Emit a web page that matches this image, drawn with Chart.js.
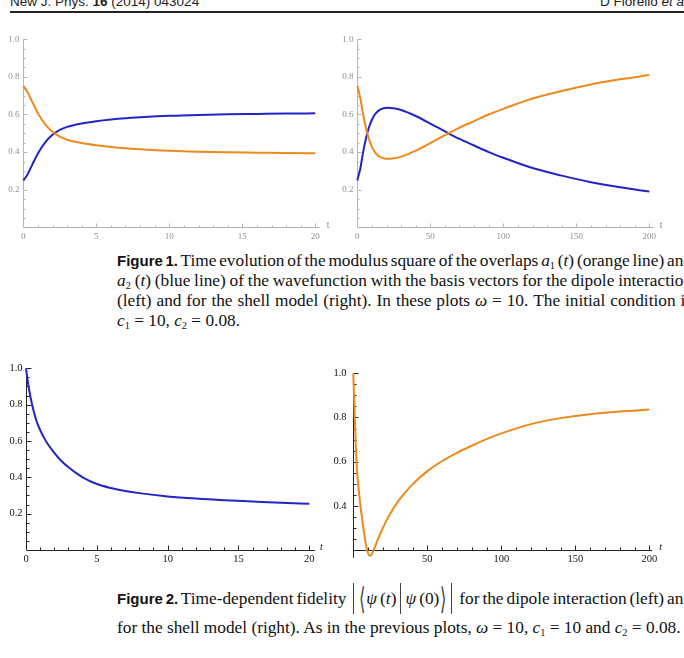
<!DOCTYPE html>
<html>
<head>
<meta charset="utf-8">
<script src="https://cdn.jsdelivr.net/npm/chart.js@4.4.1/dist/chart.umd.min.js"></script>
<style>
  body { margin: 0; width: 684px; height: 658px; overflow: hidden; background: #fff; position: relative; }
  canvas { position: absolute; }
  .head { position: absolute; top: -6px; font-family: "Liberation Sans", Arial, sans-serif; font-size: 13.5px; line-height: 15px; color: #222; white-space: nowrap; }
  .rule { position: absolute; left: 10px; top: 11px; width: 700px; height: 2px; background: #222; }
  .cap { position: absolute; left: 117px; font-family: "Liberation Serif", "Times New Roman", serif; font-size: 17.3px; line-height: 20px; color: #111; white-space: nowrap; }
  .fig { font-family: "Liberation Sans", Arial, sans-serif; font-weight: bold; font-size: 15px; }
  sub { font-size: 0.6em; vertical-align: -0.3em; line-height: 0; }
  .bar { display: inline-block; width: 1px; height: 10px; vertical-align: -3px; position: relative; margin: 0 4px; }
  .bar::before { content: ''; position: absolute; left: 0; top: -14px; width: 1px; height: 31px; background: #444; }
  .ang { display: inline-block; font-family: "DejaVu Sans", sans-serif; font-weight: 200; font-size: 30px; line-height: 10px; height: 10px; vertical-align: -5px; color: #444; transform: scaleX(0.55); margin: 0 -2px; }
</style>
</head>
<body>
<div class="head" style="left:10px">New J. Phys. <b>16</b> (2014) 043024</div>
<div class="head" style="left:600px">D Fiorello <i>et al</i></div>
<div class="rule"></div>

<canvas id="overlapDipole" width="340" height="225" style="left:0;top:25px"></canvas>
<canvas id="overlapShell" width="344" height="225" style="left:340px;top:25px"></canvas>

<div class="cap j" style="top:251px"><b class="fig">Figure 1.</b> Time evolution of the modulus square of the overlaps <i>a</i><sub>1</sub> (<i>t</i>) (orange line) and</div>
<div class="cap j" style="top:271px"><i>a</i><sub>2</sub> (<i>t</i>) (blue line) of the wavefunction with the basis vectors for the dipole interaction</div>
<div class="cap j" style="top:291px">(left) and for the shell model (right). In these plots <i>ω</i> = 10. The initial condition is</div>
<div class="cap" style="top:311px"><i>c</i><sub>1</sub> = 10, <i>c</i><sub>2</sub> = 0.08.</div>

<canvas id="fidelityDipole" width="340" height="235" style="left:0;top:340px"></canvas>
<canvas id="fidelityShell" width="359" height="235" style="left:325px;top:340px"></canvas>

<div class="cap j" style="top:589px"><b class="fig">Figure 2.</b> Time-dependent fidelity <span class="bar"></span><span class="ang">⟨</span><i>ψ</i> (<i>t</i>)<span class="bar"></span><i>ψ</i> (0)<span class="ang">⟩</span><span class="bar"></span> for the dipole interaction (left) and</div>
<div class="cap" style="top:618px">for the shell model (right). As in the previous plots, <i>ω</i> = 10, <i>c</i><sub>1</sub> = 10 and <i>c</i><sub>2</sub> = 0.08.</div>

<script>
// --- data ---
const dipoleT = [0, 0.25, 0.5, 0.75, 1, 1.5, 2, 2.5, 3, 4, 5, 6, 7, 8, 10, 12, 14, 16, 18, 20];
const dipoleA1 = [0.75, 0.725, 0.685, 0.645, 0.607, 0.548, 0.508, 0.482, 0.466, 0.448, 0.436, 0.427, 0.420, 0.415, 0.407, 0.402, 0.399, 0.397, 0.395, 0.394];
const dipoleA2 = [0.25, 0.275, 0.315, 0.355, 0.393, 0.452, 0.492, 0.518, 0.534, 0.552, 0.564, 0.573, 0.580, 0.585, 0.593, 0.598, 0.601, 0.603, 0.605, 0.606];

const shellT = [0, 2, 4, 6, 8, 10, 12, 15, 18, 21, 25, 30, 40, 50, 60, 70, 80, 90, 100, 120, 140, 160, 180, 200];
const shellA1 = [0.75, 0.69, 0.60, 0.525, 0.468, 0.428, 0.400, 0.377, 0.367, 0.364, 0.367, 0.376, 0.408, 0.448, 0.49, 0.53, 0.565, 0.60, 0.63, 0.685, 0.725, 0.76, 0.787, 0.81];
const shellA2 = [0.25, 0.31, 0.40, 0.475, 0.532, 0.572, 0.600, 0.623, 0.633, 0.636, 0.633, 0.624, 0.592, 0.552, 0.51, 0.47, 0.435, 0.40, 0.37, 0.315, 0.275, 0.24, 0.213, 0.19];

const fidDipoleT = [0, 0.1, 0.2, 0.4, 0.7, 1, 1.4, 2, 2.5, 3, 3.6, 4, 5, 6, 7, 8, 10, 12, 14, 16, 18, 20];
const fidDipole = [1.0, 0.94, 0.89, 0.81, 0.72, 0.66, 0.60, 0.535, 0.49, 0.455, 0.42, 0.40, 0.363, 0.341, 0.325, 0.313, 0.295, 0.283, 0.274, 0.267, 0.26, 0.254];

const fidShellT = [0, 0.5, 1, 2, 3, 4, 5, 6, 7, 8, 9, 10, 11, 12, 13.5, 16, 20, 25, 30, 35, 40, 50, 60, 70, 80, 90, 100, 120, 140, 160, 180, 200];
const fidShell = [1.0, 0.90, 0.80, 0.62, 0.52, 0.45, 0.39, 0.34, 0.29, 0.245, 0.21, 0.185, 0.174, 0.176, 0.195, 0.238, 0.30, 0.365, 0.418, 0.46, 0.497, 0.557, 0.603, 0.64, 0.672, 0.702, 0.728, 0.77, 0.797, 0.815, 0.827, 0.836];

// ticks
const dipoleTicks = [0, 5, 10, 15, 20];
const shellTicks = [0, 50, 100, 150, 200];
const shellFidLabels = [50, 100, 150, 200];
const overlapYTicks = [0.2, 0.4, 0.6, 0.8, 1.0];
const fidDipoleYTicks = [0.2, 0.4, 0.6, 0.8, 1.0];
const fidShellYTicks = [0.4, 0.6, 0.8, 1.0];

const ORANGE = '#ee8a1c';
const BLUE = '#2323c6';

// justify the caption lines to the text column by stretching word gaps
const COLUMN = 575;
document.querySelectorAll('.j').forEach(line => {
    const span = document.createElement('span');
    while (line.firstChild) span.appendChild(line.firstChild);
    line.appendChild(span);
    const natural = span.getBoundingClientRect().width;
    const gaps = (span.textContent.match(/ /g) || []).length;
    if (gaps) span.style.wordSpacing = ((COLUMN - natural) / gaps).toFixed(2) + 'px';
});

const pairs = (xs, ys) => xs.map((x, i) => ({ x, y: ys[i] }));

// Mathematica-like axes: crossing lines, inward ticks with minors
const mathAxes = {
    id: 'mathAxes',
    beforeDatasetsDraw(chart, args, o) {
        const ctx = chart.ctx;
        const px = v => chart.scales.x.getPixelForValue(v);
        const py = v => chart.scales.y.getPixelForValue(v);
        const ax = Math.round(px(0)) + 0.5;
        const ay = Math.round(py(o.xAxisAt)) + 0.5;
        ctx.save();
        ctx.strokeStyle = o.color;
        ctx.lineWidth = 1;
        ctx.beginPath();
        ctx.moveTo(ax, ay); ctx.lineTo(px(o.xEnd), ay);
        ctx.moveTo(ax, py(o.yLow)); ctx.lineTo(ax, py(o.yHigh));

        const near = (v, list) => list.some(t => Math.abs(t - v) < 1e-6);
        const xLast = o.xTicks[o.xTicks.length - 1];
        for (let i = 1; i * o.xMinor <= xLast + 1e-9; i++) {
            const v = i * o.xMinor;
            const x = Math.round(px(v)) + 0.5;
            const len = near(v, o.xTicks) ? o.majorLen : o.minorLen;
            ctx.moveTo(x, ay); ctx.lineTo(x, ay - len);
        }
        for (let i = 1; o.xAxisAt + i * o.yMinor <= o.yHigh + 1e-9; i++) {
            const v = o.xAxisAt + i * o.yMinor;
            const y = Math.round(py(v)) + 0.5;
            const len = near(v, o.yTicks) ? o.majorLen : o.minorLen;
            ctx.moveTo(ax, y); ctx.lineTo(ax + len, y);
        }
        ctx.stroke();

        ctx.fillStyle = o.labelColor;
        ctx.font = o.font;
        ctx.textAlign = 'center';
        ctx.textBaseline = 'middle';
        o.xLabels.forEach(v => ctx.fillText(String(v), px(v), ay + o.xLabelDy));
        ctx.textAlign = 'right';
        o.yTicks.forEach(v => ctx.fillText(v.toFixed(1), ax - o.yLabelDx, py(v)));
        ctx.textAlign = 'left';
        ctx.font = o.tFont;
        ctx.fillText('t', px(o.xEnd) + o.tDx, ay + o.tDy);
        ctx.restore();
    }
};

function makeChart(id, datasets, xRange, yRange, padding, axes) {
    return new Chart(document.getElementById(id), {
        type: 'line',
        data: { datasets },
        options: {
            responsive: false,
            animation: false,
            devicePixelRatio: 1,
            layout: { padding },
            scales: {
                x: { type: 'linear', min: xRange[0], max: xRange[1], display: false },
                y: { type: 'linear', min: yRange[0], max: yRange[1], display: false }
            },
            elements: {
                point: { radius: 0 },
                line: { borderWidth: 2, cubicInterpolationMode: 'monotone' }
            },
            plugins: {
                legend: { display: false },
                tooltip: { enabled: false },
                mathAxes: axes
            }
        },
        plugins: [mathAxes]
    });
}

const lightAxes = {
    color: '#b4b4b4', labelColor: '#8f8f8f',
    font: '9px "Liberation Serif", serif', tFont: '9px "Liberation Sans", sans-serif',
    majorLen: 4, minorLen: 2, xLabelDy: 9, yLabelDx: 4, tDy: -2,
    yTicks: overlapYTicks, xAxisAt: 0, yLow: 0, yHigh: 1.0, yMinor: 0.05
};
const darkAxes = {
    color: '#222', labelColor: '#111',
    font: '10.5px "Liberation Serif", serif', tFont: 'italic 10px "Liberation Serif", serif',
    majorLen: 5, minorLen: 3, xLabelDy: 9, tDy: -3, yMinor: 0.05
};

makeChart('overlapDipole', [
    { data: pairs(dipoleT, dipoleA1), borderColor: ORANGE, clip: false },
    { data: pairs(dipoleT, dipoleA2), borderColor: BLUE, clip: false }
], [0, 20], [0, 1], { left: 23.3, right: 24.7, top: 14.3, bottom: 22.7 },
    Object.assign({}, lightAxes, { xTicks: dipoleTicks, xLabels: dipoleTicks, xMinor: 1, xEnd: 20.3, tDx: 7 }));

makeChart('overlapShell', [
    { data: pairs(shellT, shellA1), borderColor: ORANGE, clip: false },
    { data: pairs(shellT, shellA2), borderColor: BLUE, clip: false }
], [0, 200], [0, 1], { left: 17.3, right: 34.7, top: 14.3, bottom: 22.7 },
    Object.assign({}, lightAxes, { xTicks: shellTicks, xLabels: shellTicks, xMinor: 10, xEnd: 203, tDx: 6 }));

makeChart('fidelityDipole', [
    { data: pairs(fidDipoleT, fidDipole), borderColor: BLUE, clip: false }
], [0, 20], [0, 1], { left: 26, right: 30.7, top: 28.3, bottom: 25 },
    Object.assign({}, darkAxes, { xTicks: dipoleTicks, xLabels: dipoleTicks, xMinor: 1, xEnd: 20.4, tDx: 5,
        yLabelDx: 4, yTicks: fidDipoleYTicks, xAxisAt: 0, yLow: 0, yHigh: 1.0 }));

makeChart('fidelityShell', [
    { data: pairs(fidShellT, fidShell), borderColor: ORANGE, clip: false }
], [0, 200], [0.2, 1], { left: 28.3, right: 34.7, top: 33.3, bottom: 25 },
    Object.assign({}, darkAxes, { xTicks: shellTicks, xLabels: shellFidLabels, xMinor: 10, xEnd: 202, tDx: 7,
        yLabelDx: 7, yTicks: fidShellYTicks, xAxisAt: 0.2, yLow: 0.165, yHigh: 1.0 }));
</script>
</body>
</html>
